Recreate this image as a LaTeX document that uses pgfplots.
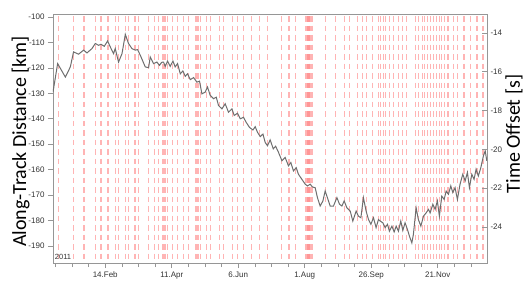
\documentclass[border=0pt]{standalone}
\usepackage{pgfplots}
\pgfplotsset{compat=1.18}
\usepackage{fontspec}
\setmainfont{Carlito}
\newfontfamily\tickfont{Liberation Sans}
\definecolor{dashred}{RGB}{255,180,180}
\definecolor{dashdark}{RGB}{255,150,150}
\definecolor{axgray}{RGB}{150,150,150}
\definecolor{curvegray}{RGB}{110,110,110}
\begin{document}
\begin{tikzpicture}
\begin{axis}[
  scale only axis, width=434pt, height=249pt,
  xmin=0, xmax=365.5, ymin=-196.7, ymax=-98.8,
  axis line style={axgray, line width=0.8pt},
  tick style={axgray, line width=0.6pt},
  tick align=outside,
  xtick pos=bottom, ytick pos=left,
  xtick={44,100,156,212,268,324},
  xticklabels={14.Feb,11.Apr,6.Jun,1.Aug,26.Sep,21.Nov},
  minor xtick={2,16,30,58,72,86,114,128,142,170,184,198,226,240,254,282,296,310,338,352},
  major tick length=5pt, minor tick length=4pt,
  ytick={-190,-180,...,-100},
  yticklabels={-190,-180,-170,-160,-150,-140,-130,-120,-110,-100},
  ticklabel style={font=\tickfont\fontsize{8}{9.6}\selectfont, text=black!80},
  ylabel={Along-Track Distance [km]},
  ylabel style={font=\fontsize{20}{24}\selectfont, at={(axis description cs:-0.0622,0.488)}, anchor=base},
]
\pgfplotsinvokeforeach{4.5,17.1,26.1,35.6,40.4,46.3,52.7,55.2,61.1,63.6,69.0,71.8,80.5,85.5,88.9,92.6,94.3,96.2,100.4,104.6,109.9,113.9,119.8,121.2,122.6,124.0,129.3,132.7,140.2,143.9,150.9,155.7,160.4,167.5,173.6,180.4,192.4,198.7,204.2,229.8,238.2,245.2,250,256.4,260.9,264.3,269,273.8,276.1,278.3,280.3,283.7,287,290.9,294.6,297.6,305.2,308.1,310.9,313.1,315.3,318.2,320.7,322.9,325.2,327.4,330,332.7,337.2,340.9,346.2,351.9,357.1,362.2}{
  \addplot[dashred, line width=1.2pt, dash pattern=on 5.5pt off 4pt, dash phase=7.5pt, forget plot] coordinates {(#1,-98.8) (#1,-196.7)};
}
\addplot[dashred, line width=8pt, dash pattern=on 5.5pt off 4pt, dash phase=7.5pt, forget plot] coordinates {(215.8,-98.8) (215.8,-196.7)};
\addplot[dashdark, line width=3.5pt, dash pattern=on 5.5pt off 4pt, dash phase=7.5pt, forget plot] coordinates {(215.3,-98.8) (215.3,-196.7)};
\addplot[curvegray, line width=1pt] coordinates {
(0,-129.5) (3.9,-118.3) (10.4,-123.6) (14.6,-119.6) (17.3,-113.7) (21.5,-114.6) (25.8,-113) (28.6,-114.1) (32.8,-112.4) (35.6,-110.4) (38.4,-111.1) (40.4,-110.7) (43.2,-111.5) (46,-109.4) (48.2,-111.7) (51,-114.4) (52.4,-112.4) (55.2,-117.7) (58.1,-114.4) (60.9,-106.8) (63.6,-110.4) (66.5,-112.4) (69.3,-113) (71.2,-112.8) (73.5,-115) (77.7,-119.6) (80.5,-119.9) (81.9,-115.7) (84.7,-118.3) (87.5,-117.7) (89.7,-119)
(91.5,-117.8) (93.1,-117.7) (94.5,-119.4) (96.5,-117.3) (98.7,-119.4) (101,-117.3) (102.9,-119.6) (104.9,-118.3) (107.2,-122.3) (109.4,-121.2) (111.4,-123.3) (113.3,-122.3) (115.6,-124.6) (118.4,-123.8) (121.2,-125.6) (123.4,-125.2) (125.4,-130.2) (128.2,-129.5) (130.1,-127.5) (132.4,-130.8) (135.2,-132.1) (137.5,-131.5) (139.4,-134.8) (142.3,-136.1) (145,-134.1) (147.8,-137.4) (150.7,-136.1) (152.6,-138.7) (155.4,-137.8) (157.7,-140) (160.4,-139.4) (162.7,-141.4) (165.5,-143.4) (168.4,-144.4) (170.3,-143.1) (172.2,-145.3) (174.5,-147) (176.8,-146) (178.7,-149.3) (180.6,-150.6) (182.9,-148.3) (185.5,-151.8) (187.5,-150.8)
(189.9,-153.2) (192.8,-156.5) (195.5,-155.2) (198.3,-158.5) (200.3,-157.2) (202.5,-160.5) (204.8,-159.2) (206.7,-161.8) (209.6,-163.8) (212.4,-165.7) (214.3,-166.4) (216.6,-165.7) (218.5,-166.8) (220.8,-167.1) (222.7,-171) (225,-174.3) (227.3,-172.3) (229.2,-168.4) (231.1,-171) (233.4,-174.3) (236.2,-174.3) (239.1,-171) (241.3,-173.6) (243.3,-174.3) (245.2,-172.3) (247.5,-175) (250.3,-176.3) (252.5,-180.2) (255.3,-176.3) (257.2,-178.3) (259.3,-178.9) (261.4,-171) (263.7,-176.3) (265.7,-179.6) (267.7,-181.5) (269.9,-178.9) (272.1,-182.8) (274.1,-179.6)
(275.5,-180.2) (277.8,-180.9) (279.7,-182.8) (281.7,-181.5) (283.3,-184.2) (285.4,-182.2) (287.3,-184.5) (289,-182.2) (290.9,-184.2) (292.9,-180.2) (294.6,-183.9) (296.5,-180.9) (298.5,-183.5) (300.2,-186.2) (302.2,-188.8) (303.5,-185.5) (305.8,-175) (307.7,-179.6) (309.8,-182.2) (312,-178.3) (314.2,-177) (316.2,-175.6) (317.6,-177) (319.9,-173.6) (321.8,-175.6) (323.7,-172.3) (325.4,-178.3) (327.4,-170.4) (329.4,-171.7) (331.1,-168.4) (333,-169.7) (335,-166.4) (336.7,-169) (338.6,-167.1) (340.6,-171.7) (342.8,-165.7) (345.1,-161.8) (347.1,-164.4) (349,-161.1) (350.7,-167.1) (352.7,-161.8) (354.6,-163.8) (356.3,-159.8) (358.2,-162.5) (360.3,-159.2) (362.5,-154.5) (364,-152.6) (365.3,-156.5)
};
\node[anchor=base west, inner sep=0pt, font=\tickfont\fontsize{7.5}{9}\selectfont, text=black!80] at (rel axis cs:0.004,0.014) {2011};
\coordinate (SW) at (rel axis cs:0,0);
\end{axis}
\begin{axis}[
  scale only axis, width=434pt, height=249pt,
  xmin=0, xmax=365.5, ymin=-25.86, ymax=-13.02,
  axis x line=none, axis y line*=right,
  axis line style={axgray, line width=0.8pt},
  tick style={axgray, line width=0.6pt},
  tick align=inside, major tick length=5pt,
  ytick={-24,-22,...,-14},
  yticklabels={-24,-22,-20,-18,-16,-14},
  ticklabel style={font=\tickfont\fontsize{8}{9.6}\selectfont, text=black!80},
  ylabel={Time Offset [s]},
  ylabel style={font=\fontsize{20}{24}\selectfont, at={(axis description cs:1.0760,0.518)}, anchor=base},
]
\end{axis}
\pgfresetboundingbox
\path[use as bounding box] ([shift={(-53pt,-24pt)}]SW) rectangle ++(525pt,287pt);
\end{tikzpicture}
\end{document}
